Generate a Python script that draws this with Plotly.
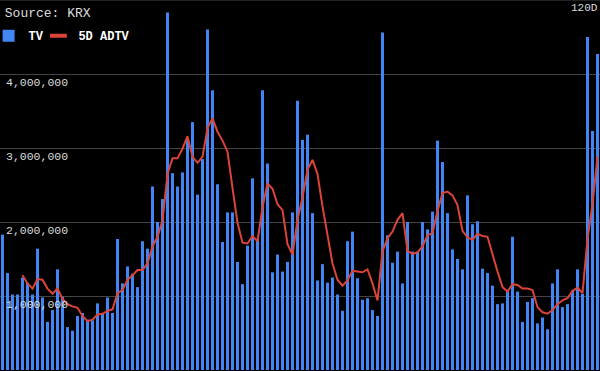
import plotly.graph_objects as go

days = list(range(120))

tv = [
    1830000, 1310000, 1020000, 1020000, 1250000, 1180000, 1020000, 1640000, 980000, 650000,
    810000, 1360000, 990000, 580000, 530000, 730000, 770000, 680000, 670000, 900000,
    770000, 980000, 770000, 1770000, 1170000, 1400000, 1300000, 1120000, 1740000, 1640000,
    2480000, 2000000, 2310000, 4830000, 2660000, 2480000, 2670000, 3120000, 3350000, 2370000,
    2850000, 4600000, 3780000, 2510000, 1730000, 2130000, 2130000, 1460000, 1160000, 1680000,
    2590000, 1770000, 3780000, 2790000, 1320000, 1560000, 1330000, 1460000, 2130000, 3640000,
    3110000, 3180000, 2120000, 1210000, 1430000, 1180000, 1250000, 1020000, 800000, 1740000,
    1870000, 1240000, 950000, 970000, 810000, 730000, 4560000, 1820000, 1450000, 1600000,
    1170000, 2000000, 1600000, 1600000, 2000000, 1900000, 2140000, 3100000, 2810000, 2120000,
    1630000, 1500000, 1360000, 2360000, 1970000, 2010000, 1370000, 1310000, 1140000, 890000,
    900000, 1080000, 1800000, 1060000, 650000, 920000, 970000, 630000, 710000, 550000,
    1170000, 1360000, 850000, 890000, 1070000, 1360000, 1030000, 4500000, 3230000, 4270000,
]

adtv = [
    None, None, None, None, 1280000, 1170000, 1100000, 1230000, 1220000, 1100000,
    1030000, 1100000, 960000, 890000, 860000, 840000, 730000, 660000, 680000, 750000,
    760000, 800000, 820000, 1040000, 1080000, 1220000, 1280000, 1350000, 1350000, 1440000,
    1670000, 1800000, 2020000, 2650000, 2860000, 2860000, 2990000, 3160000, 2880000, 2800000,
    2880000, 3270000, 3400000, 3220000, 3100000, 2950000, 2460000, 1990000, 1720000, 1710000,
    1810000, 1740000, 2200000, 2520000, 2450000, 2240000, 2160000, 1700000, 1560000, 2030000,
    2330000, 2710000, 2840000, 2650000, 2210000, 1820000, 1440000, 1220000, 1140000, 1210000,
    1340000, 1330000, 1320000, 1360000, 1170000, 940000, 1600000, 1780000, 1870000, 2030000,
    2120000, 1610000, 1570000, 1590000, 1670000, 1820000, 1850000, 2150000, 2390000, 2410000,
    2360000, 2230000, 1880000, 1790000, 1760000, 1840000, 1810000, 1800000, 1550000, 1330000,
    1120000, 1060000, 1160000, 1150000, 1100000, 1100000, 1080000, 850000, 780000, 760000,
    810000, 890000, 940000, 970000, 1070000, 1110000, 1040000, 1770000, 2240000, 2880000,
]

tick_vals = [1000000, 2000000, 3000000, 4000000]
tick_text = ["1,000,000", "2,000,000", "3,000,000", "4,000,000"]

FONT = "Liberation Mono, Courier New, monospace"
BLUE = "#4285F4"
RED = "#DB4437"

fig = go.Figure()
fig.add_trace(go.Bar(
    x=days, y=tv, name="TV", width=0.6, legend="legend",
    marker=dict(color=BLUE, line=dict(width=0)),
))
fig.add_trace(go.Scatter(
    x=days, y=adtv, name="5D ADTV", mode="lines",
    line=dict(color=RED, width=2), showlegend=False, legendgroup="adtv",
))
# legend proxy: short thick dash like the reference key
fig.add_trace(go.Scatter(
    x=[None], y=[None], name="5D ADTV", mode="markers", legendgroup="adtv",
    legend="legend2",
    marker=dict(symbol="line-ew", size=12, color=RED, line=dict(color=RED, width=4)),
))

legend_font = dict(family=FONT, color="#ffffff", size=12, weight="bold")

fig.update_layout(
    width=600, height=371,
    margin=dict(l=0, r=0, t=0, b=0, autoexpand=False),
    paper_bgcolor="#000000", plot_bgcolor="#000000",
    font=dict(family=FONT, color="#dddddd", size=11),
    bargap=0.4,
    showlegend=True,
    legend=dict(
        orientation="h", x=-0.019, y=0.943, xanchor="left", yanchor="top",
        bgcolor="rgba(0,0,0,0)", itemwidth=30, font=legend_font,
    ),
    legend2=dict(
        orientation="h", x=0.064, y=0.943, xanchor="left", yanchor="top",
        bgcolor="rgba(0,0,0,0)", itemwidth=30, font=legend_font,
    ),
    xaxis=dict(range=[-0.5, 119.5], visible=False, showgrid=False, zeroline=False, automargin=False),
    yaxis=dict(
        range=[-13514, 5000000], tickvals=tick_vals, ticktext=tick_text,
        showgrid=True, gridcolor="#444444", gridwidth=1, zeroline=False,
        ticks="", ticklabelposition="inside bottom", ticklabelstandoff=3,
        tickfont=dict(family=FONT, color="#dddddd", size=11.5),
        showline=False, automargin=False,
    ),
    title=dict(text="Source: KRX", x=0.008, xanchor="left", y=0.967, yanchor="middle",
               font=dict(family=FONT, color="#dddddd", size=13)),
    annotations=[dict(text="120D", xref="paper", yref="paper", x=1.0, y=1.0,
                      xanchor="right", yanchor="top", showarrow=False,
                      font=dict(family=FONT, color="#dddddd", size=11))],
    shapes=[dict(type="line", xref="paper", yref="paper", x0=0, x1=1, y0=1, y1=1,
                 line=dict(color="#444444", width=1))],
)

fig.write_html(
    "out.html",
    config={"displayModeBar": False},
    post_script="document.body.style.margin='0';document.body.style.overflow='hidden';",
)
